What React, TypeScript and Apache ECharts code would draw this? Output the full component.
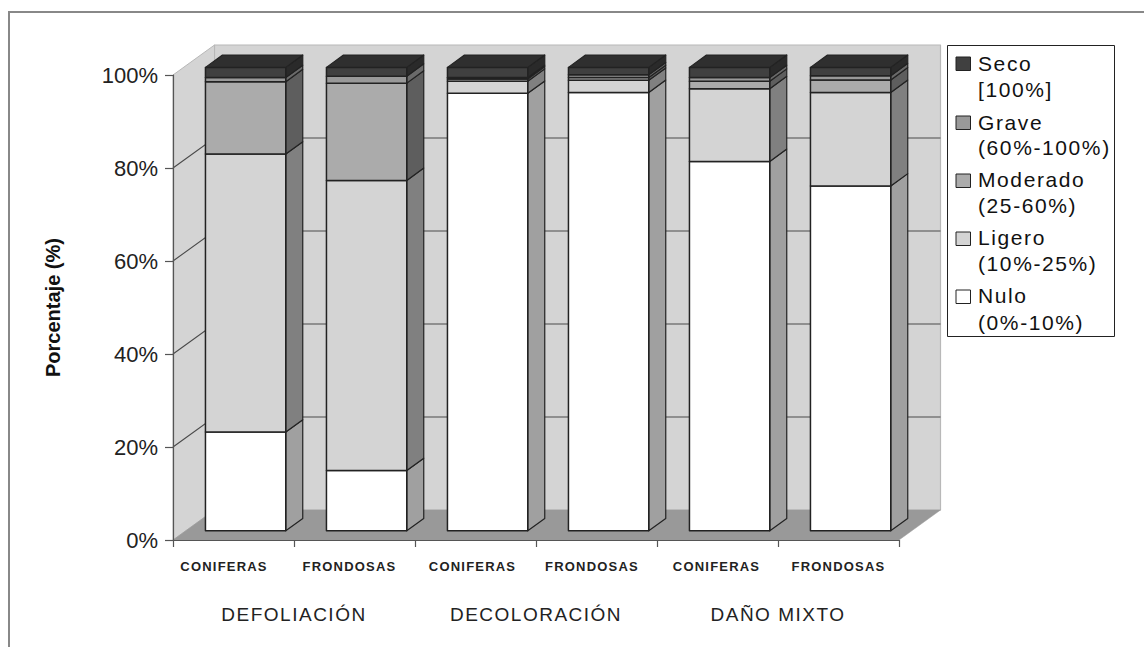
import React, { useEffect, useRef } from "react";
import * as echarts from "echarts";

const categories = ["CONIFERAS", "FRONDOSAS", "CONIFERAS", "FRONDOSAS", "CONIFERAS", "FRONDOSAS"];
const categoryRightPads = [19, 10, 6, 9, 2, 0];
const groups = ["DEFOLIACIÓN", "DECOLORACIÓN", "DAÑO MIXTO"];
const yTicks = [0, 20, 40, 60, 80, 100];

const seriesNames = ["Nulo", "Ligero", "Moderado", "Grave", "Seco"];
const ranges = ["(0%-10%)", "(10%-25%)", "(25-60%)", "(60%-100%)", "[100%]"];

const nulo = [21.3, 13, 94.4, 94.6, 79.7, 74.4];
const ligero = [60, 62.6, 2.6, 2.6, 15.7, 20.2];
const moderado = [15.6, 21, 0.5, 0.6, 1.6, 2.7];
const grave = [0.9, 1.5, 0.3, 0.6, 0.8, 0.9];
const seco = [2.2, 1.9, 2.2, 1.6, 2.2, 1.8];

const frontColors = ["#ffffff", "#d4d4d4", "#ababab", "#999999", "#404040"];
const sideColors = ["#a0a0a0", "#808080", "#5e5e5e", "#6a6a6a", "#2a2a2a"];
const topColor = "#2f2f2f";
const wallColor = "#d4d4d4";
const floorColor = "#999999";

const allValues = [nulo, ligero, moderado, grave, seco];

const WALL_DX = 41.5;
const WALL_DY = -30;
const BAR_OFF_X = 12.1;
const BAR_OFF_Y = -9.2;
const BAR_DX = 17;
const BAR_DY = -12.4;
const BAR_WIDTH = 80.3;
const Y_SCALE = 0.9966;

function stacked(level: number) {
  return categories.map((_, i) => {
    let base = 0;
    for (let l = 0; l < level; l++) base += allValues[l][i];
    return [i, base, base + allValues[level][i]];
  });
}

function poly(points: number[][], fill: string, stroke: string, lineWidth = 1) {
  return { type: "polygon", shape: { points }, style: { fill, stroke, lineWidth, lineJoin: "round" } };
}

function barRender(level: number) {
  return (_params: any, api: any) => {
    const i = api.value(0);
    const zero = api.coord([i, 0]);
    const lo = api.coord([i, api.value(1)]);
    const hi = api.coord([i, api.value(2)]);
    const mapY = (y: number) => zero[1] - (zero[1] - y) * Y_SCALE + BAR_OFF_Y;
    const x0 = zero[0] + BAR_OFF_X - BAR_WIDTH / 2;
    const x1 = x0 + BAR_WIDTH;
    const yLo = mapY(lo[1]);
    const yHi = mapY(hi[1]);
    const line = "#222222";
    const children: any[] = [
      poly([[x1, yLo], [x1 + BAR_DX, yLo + BAR_DY], [x1 + BAR_DX, yHi + BAR_DY], [x1, yHi]], sideColors[level], line, 1.2),
      poly([[x0, yLo], [x1, yLo], [x1, yHi], [x0, yHi]], frontColors[level], line, 1.5),
    ];
    if (level === allValues.length - 1) {
      children.push(
        poly([[x0, yHi], [x1, yHi], [x1 + BAR_DX, yHi + BAR_DY], [x0 + BAR_DX, yHi + BAR_DY]], topColor, line, 1.2)
      );
    }
    return { type: "group", children };
  };
}

function wallsRender(params: any, api: any) {
  const left = api.coord([0, 0])[0] - api.size([1, 0])[0] / 2;
  const right = left + api.size([1, 0])[0] * categories.length;
  const bottom = api.coord([0, 0])[1];
  const top = api.coord([0, 100])[1];
  return {
    type: "group",
    children: [
      poly([[left + WALL_DX, top + WALL_DY], [right + WALL_DX, top + WALL_DY], [right + WALL_DX, bottom + WALL_DY], [left + WALL_DX, bottom + WALL_DY]], wallColor, "#b8b8b8", 1.2),
      poly([[left, top], [left + WALL_DX, top + WALL_DY], [left + WALL_DX, bottom + WALL_DY], [left, bottom]], wallColor, "#b8b8b8", 1),
    ],
  };
}

function floorRender(params: any, api: any) {
  const left = api.coord([0, 0])[0] - api.size([1, 0])[0] / 2;
  const right = left + api.size([1, 0])[0] * categories.length;
  const bottom = api.coord([0, 0])[1];
  return poly([[left, bottom], [right, bottom], [right + WALL_DX, bottom + WALL_DY], [left + WALL_DX, bottom + WALL_DY]], floorColor, floorColor, 0.5);
}

function gridRender(params: any, api: any) {
  const left = api.coord([0, 0])[0] - api.size([1, 0])[0] / 2;
  const right = left + api.size([1, 0])[0] * categories.length;
  const y = api.coord([0, api.value(0)])[1];
  return {
    type: "polyline",
    shape: { points: [[left, y], [left + WALL_DX, y + WALL_DY], [right + WALL_DX, y + WALL_DY]] },
    style: { fill: "none", stroke: "#4a4a4a", lineWidth: 1.1 },
  };
}

function legendGraphics() {
  const items: any[] = [];
  const swatchY = [57, 116, 174, 232, 290];
  const line1Y = [63, 122, 179, 237, 295];
  const line2Y = [89, 147, 205, 263, 322];
  const font = '21px "Liberation Sans", Arial, sans-serif';
  [...seriesNames].reverse().forEach((name, k) => {
    const level = seriesNames.length - 1 - k;
    items.push({
      type: "rect",
      shape: { x: 956, y: swatchY[k], width: 14.5, height: 13.5 },
      style: { fill: frontColors[level], stroke: "#222", lineWidth: 1 },
    });
    items.push({ type: "text", x: 978, y: line1Y[k], style: { text: name, font, fill: "#111", textVerticalAlign: "middle" } });
    items.push({ type: "text", x: 978, y: line2Y[k], style: { text: ranges[level], font, fill: "#111", textVerticalAlign: "middle" } });
  });
  return items;
}

function applySpacing(root: HTMLElement) {
  root.querySelectorAll("text").forEach((t) => {
    const s = t.textContent || "";
    let ls = "";
    if (categories.includes(s)) ls = "1.2px";
    else if (groups.includes(s)) ls = "1.5px";
    else if (seriesNames.includes(s) || ranges.includes(s)) ls = "1.6px";
    if (ls) (t as SVGTextElement).style.letterSpacing = ls;
  });
}

export default function App() {
  const ref = useRef<HTMLDivElement>(null);
  useEffect(() => {
    document.body.style.margin = "0";
    const chart = echarts.init(ref.current!, undefined, { renderer: "svg" });
    const fontFamily = '"Liberation Sans", Arial, sans-serif';
    chart.setOption({
      animation: false,
      backgroundColor: "#ffffff",
      grid: { left: 173, top: 75, width: 726, height: 465, containLabel: false },
      xAxis: [
        {
          type: "category",
          data: categories.map((value, i) => ({ value, textStyle: { padding: [0, categoryRightPads[i], 0, 0] } })),
          z: 6,
          axisLine: { show: true, onZero: false, lineStyle: { color: "#555", width: 1.2 } },
          axisTick: { show: true, length: 7, alignWithLabel: false, lineStyle: { color: "#555", width: 1.2 } },
          axisLabel: { interval: 0, margin: 20, fontFamily, fontSize: 13, fontWeight: "bold", color: "#222" },
        },
        {
          type: "category",
          position: "bottom",
          offset: 45,
          data: groups,
          axisLine: { show: false },
          axisTick: { show: false },
          axisLabel: { interval: 0, margin: 20, fontFamily, fontSize: 19, color: "#222" },
        },
      ],
      yAxis: {
        type: "value",
        min: 0,
        max: 100,
        interval: 20,
        z: 6,
        name: "Porcentaje (%)",
        nameLocation: "middle",
        nameGap: 110,
        nameRotate: 90,
        nameTextStyle: { fontFamily, fontSize: 20, fontWeight: "bold", color: "#111" },
        splitLine: { show: false },
        axisLine: { show: true, lineStyle: { color: "#555", width: 1.2 } },
        axisTick: { show: true, length: 8, lineStyle: { color: "#555", width: 1.2 } },
        axisLabel: { margin: 15, fontFamily, fontSize: 22, color: "#222", formatter: (v: number) => (yTicks.includes(v) ? `${v}%` : "") },
      },
      series: [
        { type: "custom", name: "walls", silent: true, clip: false, data: [[0, 0]], renderItem: wallsRender, encode: { x: 0, y: 1 } },
        { type: "custom", name: "floor", silent: true, clip: false, data: [[0, 0]], renderItem: floorRender, encode: { x: 0, y: 1 } },
        {
          type: "custom",
          name: "grid",
          silent: true,
          clip: false,
          data: yTicks.filter((t) => t > 0 && t < 100).map((t) => [t]),
          renderItem: gridRender,
          encode: { y: 0 },
        },
        ...seriesNames.map((name, level) => ({
          type: "custom",
          name,
          clip: false,
          data: stacked(level),
          renderItem: barRender(level),
          encode: { x: 0, y: [1, 2] },
        })),
      ],
      graphic: [
        {
          type: "polyline",
          shape: { points: [[9, 647], [9, 12], [1144, 12]] },
          style: { fill: "none", stroke: "#888", lineWidth: 2 },
        },
        {
          type: "rect",
          shape: { x: 947.5, y: 45.5, width: 167, height: 291 },
          style: { fill: "#fff", stroke: "#222", lineWidth: 1 },
        },
        ...legendGraphics(),
      ],
    });
    applySpacing(ref.current!);
    chart.on("finished", () => ref.current && applySpacing(ref.current));
    return () => chart.dispose();
  }, []);
  return <div ref={ref} style={{ position: "fixed", left: 0, top: 0, width: 1144, height: 647 }} />;
}
